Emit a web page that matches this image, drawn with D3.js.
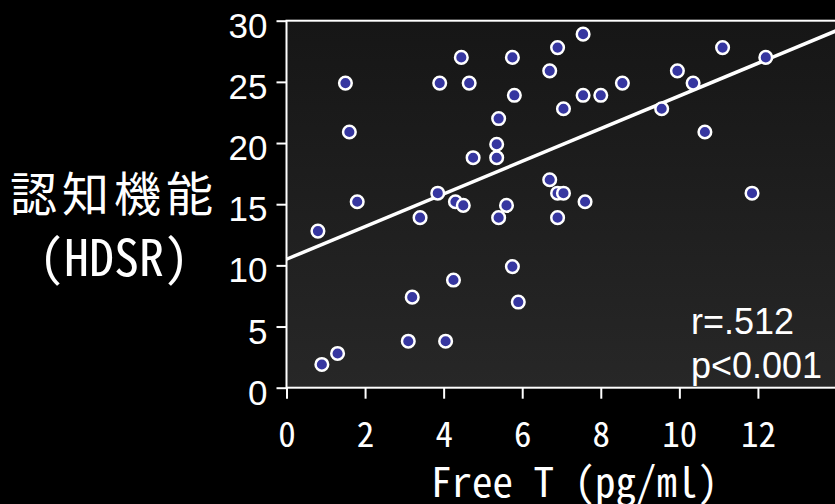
<!DOCTYPE html>
<html>
<head>
<meta charset="utf-8">
<title>Free T vs HDSR</title>
<script src="https://d3js.org/d3.v7.min.js"></script>
<style>
html, body { margin: 0; padding: 0; background: #000; }
svg { display: block; }
.ytick text { font-family: "Liberation Sans", Arial, sans-serif; font-size: 35px; fill: #fff; }
.xtick text { font-family: "Noto Sans CJK JP", sans-serif; font-size: 35px; fill: #fff; font-feature-settings: "hwid"; }
.jp { font-family: "Noto Sans CJK JP", sans-serif; fill: #fff; font-feature-settings: "hwid"; }
.stat { font-family: "Liberation Sans", Arial, sans-serif; font-size: 36px; fill: #fff; }
</style>
</head>
<body>
<script>
// values
var freeT = [0.8, 0.9, 1.3, 1.5, 1.6, 1.8, 3.1, 3.2, 3.4, 3.9, 3.85, 4.05, 4.25, 4.45, 4.3, 4.5,
  4.65, 4.75, 5.35, 5.35, 5.4, 5.4, 5.6, 5.75, 5.75, 5.8, 5.9, 6.7, 6.7, 6.9, 6.9, 7.05,
  6.9, 7.05, 7.55, 7.55, 7.6, 8.0, 8.55, 9.55, 9.95, 10.35, 10.65, 11.1, 11.85, 12.2];
var hdsr = [12.8, 1.9, 2.8, 24.9, 20.9, 15.2, 3.8, 7.4, 13.9, 24.9, 15.9, 3.8, 8.8, 27, 15.2, 14.9,
  24.9, 18.8, 19.9, 18.8, 22, 13.9, 14.9, 9.9, 27, 23.9, 7, 17, 25.9, 27.8, 15.9, 15.9,
  13.9, 22.8, 28.9, 23.9, 15.2, 23.9, 24.9, 22.8, 25.9, 24.9, 20.9, 27.8, 15.9, 27];
var xTicks = [0, 2, 4, 6, 8, 10, 12];
var yTicks = [0, 5, 10, 15, 20, 25, 30];
var fitIntercept = 10.5;
var fitSlope = 1.335;
var statLines = ["r=.512", "p<0.001"];

var w = 835, h = 504;

var x = d3.scaleLinear().domain([0, 14]).range([286.5, 836.5]);
var y = d3.scaleLinear().domain([0, 30]).range([387.7, 20.7]);

var svg = d3.select("body").append("svg")
    .attr("width", w)
    .attr("height", h)
    .style("background", "#000");

var grad = svg.append("defs").append("linearGradient")
    .attr("id", "bg")
    .attr("x1", 0).attr("y1", 0).attr("x2", 0).attr("y2", 1);
grad.append("stop").attr("offset", "0%").attr("stop-color", "#161616");
grad.append("stop").attr("offset", "100%").attr("stop-color", "#272727");

// plot area
svg.append("rect")
    .attr("x", x(0))
    .attr("y", y(30))
    .attr("width", x(14) - x(0))
    .attr("height", y(0) - y(30))
    .attr("fill", "url(#bg)")
    .attr("stroke", "#fff")
    .attr("stroke-width", 2);

var yAxis = svg.append("g")
    .attr("class", "ytick")
    .attr("transform", "translate(" + x(0) + ",0)")
    .call(d3.axisLeft(y).tickValues(yTicks).tickSize(10).tickPadding(9).tickSizeOuter(0));
yAxis.select(".domain").remove();
yAxis.selectAll("line").attr("stroke", "#fff").attr("stroke-width", 2);
yAxis.selectAll("text").attr("dy", 16.5);

var xAxis = svg.append("g")
    .attr("class", "xtick")
    .attr("transform", "translate(0," + y(0) + ")")
    .call(d3.axisBottom(x).tickValues(xTicks).tickSize(11).tickSizeOuter(0));
xAxis.select(".domain").remove();
xAxis.selectAll("line").attr("stroke", "#fff").attr("stroke-width", 2);
xAxis.selectAll("text").attr("y", 59).attr("dy", 0);
svg.selectAll(".tick text").attr("font-family", null).attr("font-size", null).attr("fill", null);

// regression line
var line = d3.line()
    .x(function(d) { return x(d); })
    .y(function(d) { return y(fitIntercept + fitSlope * d); });
svg.append("path")
    .datum([0, 14])
    .attr("d", line)
    .attr("fill", "none")
    .attr("stroke", "#fff")
    .attr("stroke-width", 3.5);

svg.append("g")
    .selectAll("circle")
    .data(freeT)
    .enter()
    .append("circle")
    .attr("cx", function(d) { return x(d); })
    .attr("cy", function(d, i) { return y(hdsr[i]); })
    .attr("r", 6.3)
    .attr("fill", "#3636a0")
    .attr("stroke", "#fff")
    .attr("stroke-width", 2.5);

svg.selectAll(".stat")
    .data(statLines)
    .enter()
    .append("text")
    .attr("class", "stat")
    .attr("x", 691)
    .attr("y", function(d, i) { return 334 + i * 44; })
    .text(function(d) { return d; });

// axis titles
svg.append("text")
    .attr("class", "jp")
    .attr("x", 10)
    .attr("y", 211)
    .style("font-size", "47px")
    .style("letter-spacing", "5px")
    .text("認知機能");

svg.append("text")
    .attr("class", "jp")
    .attr("x", 39)
    .attr("y", 276)
    .style("font-size", "50px")
    .text("(HDSR)");

svg.append("text")
    .attr("class", "jp")
    .attr("x", 431)
    .attr("y", 496.5)
    .style("font-size", "41px")
    .text("Free T (pg/ml)");
</script>
</body>
</html>
